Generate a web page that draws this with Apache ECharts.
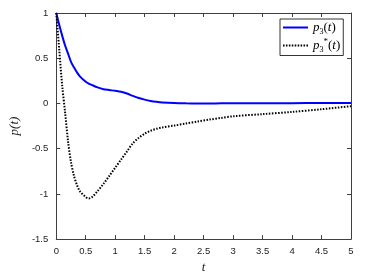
<!DOCTYPE html>
<html>
<head>
<meta charset="utf-8">
<script src="https://cdn.jsdelivr.net/npm/echarts@6/dist/echarts.min.js"></script>
<style>html,body{margin:0;padding:0;background:#fff}#c{width:381px;height:279px}</style>
</head>
<body>
<div id="c"></div>
<script>
var tValues = [0, 0.05, 0.1, 0.15, 0.2, 0.25, 0.3, 0.35, 0.4, 0.5, 0.55, 0.6, 0.7, 0.8, 0.9, 1.0, 1.1, 1.2, 1.3, 1.4, 1.5, 1.6, 1.7, 1.8, 2.0, 2.2, 2.4, 2.6, 2.8, 3.0, 3.5, 4.0, 4.5, 5.0];
var p3Values = [1, 0.87, 0.75, 0.64, 0.55, 0.46, 0.4, 0.345, 0.3, 0.24, 0.22, 0.205, 0.177, 0.157, 0.148, 0.14, 0.13, 0.11, 0.083, 0.06, 0.042, 0.028, 0.018, 0.011, 0.004, 0.001, 0.0, 0.0, 0.001, 0.001, 0.002, 0.003, 0.004, 0.005];
var p3StarValues = [1, 0.6, 0.2, -0.1, -0.42, -0.65, -0.8, -0.9, -0.97, -1.035, -1.05, -1.04, -0.97, -0.89, -0.8, -0.71, -0.62, -0.53, -0.44, -0.38, -0.335, -0.302, -0.28, -0.265, -0.245, -0.222, -0.2, -0.178, -0.16, -0.142, -0.118, -0.094, -0.064, -0.03];
var xTicks = ['0', '0.5', '1', '1.5', '2', '2.5', '3', '3.5', '4', '4.5', '5'];
var yTicks = ['-1.5', '-1', '-0.5', '0', '0.5', '1'];
var seriesNames = ['p3', 'p3star'];

function pairs(vals) { return tValues.map(function (t, i) { return [t, vals[i]]; }); }

var solidIcon = 'path://M0,0h25v2h-25z';
var dotIcon = 'path://';
for (var k = 0; k < 9; k++) { dotIcon += 'M' + (k * 3) + ',0h1.6v2h-1.6z'; }

var axisColor = '#404040';
var labelFont = { fontFamily: 'Liberation Sans', fontSize: 9.5, color: '#222' };
var chart = echarts.init(document.getElementById('c'), null, { renderer: 'canvas' });
var baseX = {
  type: 'value', min: 0, max: 5, interval: 0.5,
  axisLine: { show: true, onZero: false, lineStyle: { color: axisColor, width: 1 } },
  axisTick: { show: true, inside: true, length: 4, lineStyle: { color: axisColor } },
  splitLine: { show: false }
};
var baseY = {
  type: 'value', min: -1.5, max: 1, interval: 0.5,
  axisLine: { show: true, onZero: false, lineStyle: { color: axisColor, width: 1 } },
  axisTick: { show: true, inside: true, length: 4, lineStyle: { color: axisColor } },
  splitLine: { show: false }
};
chart.setOption({
  animation: false,
  backgroundColor: '#fff',
  grid: { left: 53, right: 30, top: 13, bottom: 33, containLabel: false },
  xAxis: [
    Object.assign({}, baseX, {
      position: 'bottom',
      name: 't', nameLocation: 'middle', nameGap: 18,
      nameTextStyle: { fontFamily: 'Liberation Serif', fontStyle: 'italic', fontSize: 13, color: '#222' },
      axisLabel: Object.assign({ margin: 7, formatter: function (v) { return xTicks[Math.round(v / 0.5)]; } }, labelFont)
    }),
    Object.assign({}, baseX, { position: 'top', axisLabel: { show: false } })
  ],
  yAxis: [
    Object.assign({}, baseY, {
      position: 'left',
      name: 'p(t)', nameLocation: 'middle', nameGap: 21, nameRotate: 90,
      nameTextStyle: { fontFamily: 'Liberation Serif', fontStyle: 'italic', fontSize: 13, color: '#222' },
      axisLabel: Object.assign({ margin: 8, formatter: function (v) { return yTicks[Math.round((v + 1.5) / 0.5)]; } }, labelFont)
    }),
    Object.assign({}, baseY, { position: 'right', axisLabel: { show: false } })
  ],
  legend: {
    left: 280, top: 19, orient: 'vertical',
    itemWidth: 25, itemHeight: 2, itemGap: 2,
    symbolKeepAspect: false,
    padding: [2, 3, 2, 3],
    borderColor: '#000', borderWidth: 0.8, backgroundColor: '#fff',
    data: [
      { name: seriesNames[0], icon: solidIcon, itemStyle: { color: '#0000ff' } },
      { name: seriesNames[1], icon: dotIcon, itemStyle: { color: '#000' } }
    ],
    formatter: function (name) {
      return name === 'p3' ? '{i|p}{sub|3}{n|(}{i|t}{n|)}' : '{i|p}{sub|3}{sup|*}{n|(}{i|t}{n|)}';
    },
    textStyle: {
      color: '#000',
      rich: {
        i: { fontFamily: 'Liberation Serif', fontStyle: 'italic', fontSize: 13, color: '#000', lineHeight: 16 },
        n: { fontFamily: 'Liberation Serif', fontSize: 13, color: '#000', lineHeight: 16 },
        sub: { fontFamily: 'Liberation Serif', fontSize: 8, color: '#000', lineHeight: 10, verticalAlign: 'bottom' },
        sup: { fontFamily: 'Liberation Serif', fontSize: 9, color: '#000', lineHeight: 10, verticalAlign: 'top' }
      }
    }
  },
  series: [
    {
      name: 'p3', type: 'line', data: pairs(p3Values), smooth: 0.3,
      showSymbol: false, symbol: 'none', clip: true,
      lineStyle: { color: '#0000ff', width: 2 }, itemStyle: { color: '#0000ff' }
    },
    {
      name: 'p3star', type: 'line', data: pairs(p3StarValues), smooth: 0.3,
      showSymbol: false, symbol: 'none', clip: true,
      lineStyle: { color: '#000', width: 2, type: [1.5, 1.5] }, itemStyle: { color: '#000' }
    }
  ]
});
</script>
</body>
</html>
